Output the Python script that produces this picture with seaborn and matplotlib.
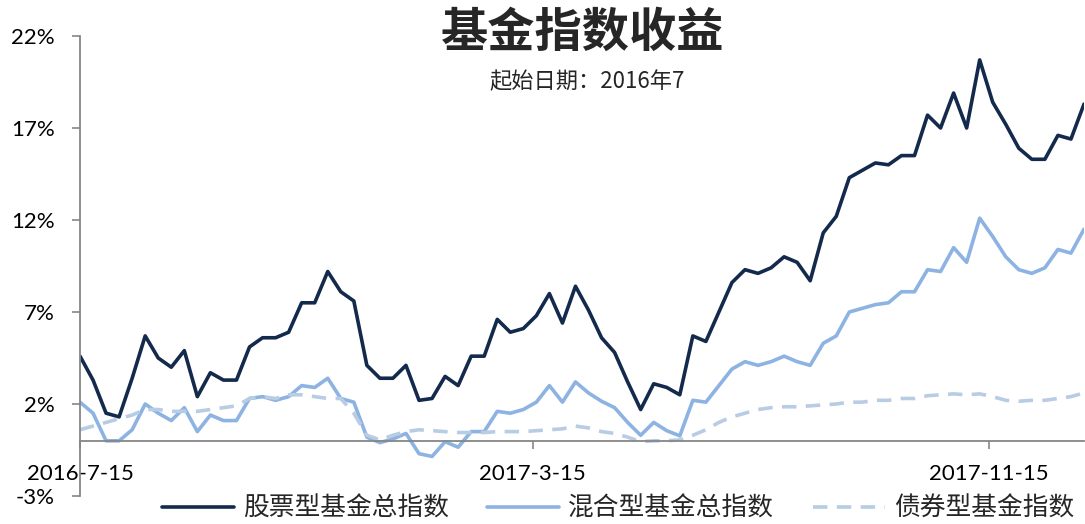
import matplotlib
matplotlib.use("Agg")
import matplotlib.pyplot as plt
import seaborn as sns
import pandas as pd
import numpy as np

# weekly fund index returns (%), starting 2016-7-15
start_date = "2016-07-15"
n_weeks = 78

stock_idx = [4.6, 3.3, 1.5, 1.3, 3.4, 5.7, 4.5, 4.0, 4.9, 2.4,
             3.7, 3.3, 3.3, 5.1, 5.6, 5.6, 5.9, 7.5, 7.5, 9.2,
             8.1, 7.6, 4.1, 3.4, 3.4, 4.1, 2.2, 2.3, 3.5, 3.0,
             4.6, 4.6, 6.6, 5.9, 6.1, 6.8, 8.0, 6.4, 8.4, 7.1,
             5.6, 4.8, 3.2, 1.7, 3.1, 2.9, 2.5, 5.7, 5.4, 7.0,
             8.6, 9.3, 9.1, 9.4, 10.0, 9.7, 8.7, 11.3, 12.2, 14.3,
             14.7, 15.1, 15.0, 15.5, 15.5, 17.7, 17.0, 18.9, 17.0, 20.7,
             18.4, 17.2, 15.9, 15.3, 15.3, 16.6, 16.4, 18.3]

mixed_idx = [2.1, 1.5, 0.0, 0.0, 0.6, 2.0, 1.5, 1.1, 1.8, 0.5,
             1.4, 1.1, 1.1, 2.3, 2.4, 2.2, 2.4, 3.0, 2.9, 3.4,
             2.3, 2.1, 0.2, -0.1, 0.1, 0.4, -0.7, -0.85, -0.05, -0.35,
             0.5, 0.5, 1.6, 1.5, 1.7, 2.1, 3.0, 2.1, 3.2, 2.6,
             2.15, 1.8, 1.0, 0.3, 1.0, 0.55, 0.27, 2.2, 2.1, 3.0,
             3.9, 4.3, 4.1, 4.3, 4.6, 4.3, 4.1, 5.3, 5.7, 7.0,
             7.2, 7.4, 7.5, 8.1, 8.1, 9.3, 9.2, 10.5, 9.7, 12.1,
             11.1, 10.0, 9.3, 9.1, 9.4, 10.4, 10.2, 11.5]

bond_idx = [0.6, 0.8, 1.0, 1.2, 1.4, 1.7, 1.7, 1.6, 1.6, 1.6,
            1.7, 1.8, 1.9, 2.3, 2.4, 2.3, 2.5, 2.5, 2.4, 2.3,
            2.3, 1.5, 0.3, 0.05, 0.3, 0.5, 0.6, 0.55, 0.5, 0.45,
            0.45, 0.45, 0.5, 0.5, 0.5, 0.55, 0.6, 0.65, 0.8, 0.7,
            0.5, 0.4, 0.2, -0.05, 0.0, 0.0, 0.05, 0.3, 0.6, 1.0,
            1.3, 1.5, 1.7, 1.8, 1.85, 1.85, 1.9, 1.95, 2.0, 2.1,
            2.1, 2.2, 2.2, 2.3, 2.3, 2.45, 2.5, 2.55, 2.5, 2.55,
            2.4, 2.2, 2.15, 2.2, 2.2, 2.3, 2.4, 2.6]

series_names = ["股票型基金总指数", "混合型基金总指数", "债券型基金指数"]
x_tick_dates = ["2016-07-15", "2017-03-15", "2017-11-15"]
x_tick_labels = ["2016-7-15", "2017-3-15", "2017-11-15"]
y_ticks = [-3, 2, 7, 12, 17, 22]

dates = pd.date_range(start_date, periods=n_weeks, freq="7D")
df = pd.DataFrame({"date": dates, "stock": stock_idx, "mixed": mixed_idx, "bond": bond_idx})

sns.set_style("white")
plt.rcParams["font.family"] = ["Lato", "Noto Sans CJK SC", "DejaVu Sans"]
cjk = ["Noto Sans CJK SC", "DejaVu Sans"]

fig = plt.figure(figsize=(10.85, 5.24), dpi=100)
ax = fig.add_axes([80 / 1085, 28 / 524, 1004 / 1085, 460 / 524])

sns.lineplot(data=df, x="date", y="stock", ax=ax, color="#142A4C", lw=2.6, label=series_names[0])
sns.lineplot(data=df, x="date", y="mixed", ax=ax, color="#8DB3E2", lw=2.6, label=series_names[1])
sns.lineplot(data=df, x="date", y="bond", ax=ax, color="#B8CCE4", lw=2.6,
             linestyle=(0, (4, 2.6)), label=series_names[2])

ax.set_xlim(dates[0], dates[-1])
ax.set_ylim(-3, 22)
ax.set_yticks(y_ticks)
ax.set_yticklabels([f"{v}%" for v in y_ticks])
ax.set_xticks(pd.to_datetime(x_tick_dates))
ax.set_xticklabels(x_tick_labels)
ax.set_xlabel("")
ax.set_ylabel("")

# axis styling: x axis crosses at 0
axis_gray = "#868686"
for side in ["top", "right"]:
    ax.spines[side].set_visible(False)
ax.spines["left"].set_color(axis_gray)
ax.spines["left"].set_linewidth(1.3)
ax.spines["bottom"].set_color(axis_gray)
ax.spines["bottom"].set_linewidth(1.3)
ax.spines["bottom"].set_position(("data", 0))
ax.tick_params(axis="y", left=True, direction="out", length=6, width=1.2, color=axis_gray,
               pad=12, labelsize=16, labelcolor="black")
ax.tick_params(axis="x", bottom=True, direction="out", length=6, width=1.2, color=axis_gray,
               pad=11, labelsize=16, labelcolor="black")

# title and subtitle
fig.text(583 / 1085, 1 - 33 / 524, "基金指数收益", ha="center", va="center",
         fontsize=34, fontweight="bold", family=cjk)
fig.text(587 / 1085, 1 - 82 / 524, "起始日期：2016年7", ha="center", va="center",
         fontsize=16, family=cjk)

leg = ax.legend(loc="center", bbox_to_anchor=(618 / 1085, 15 / 524), bbox_transform=fig.transFigure,
                ncol=3, frameon=False, handlelength=2.8, handletextpad=0.35, columnspacing=1.5,
                prop={"family": cjk, "size": 18.5})

fig.savefig("out.png", dpi=100)
